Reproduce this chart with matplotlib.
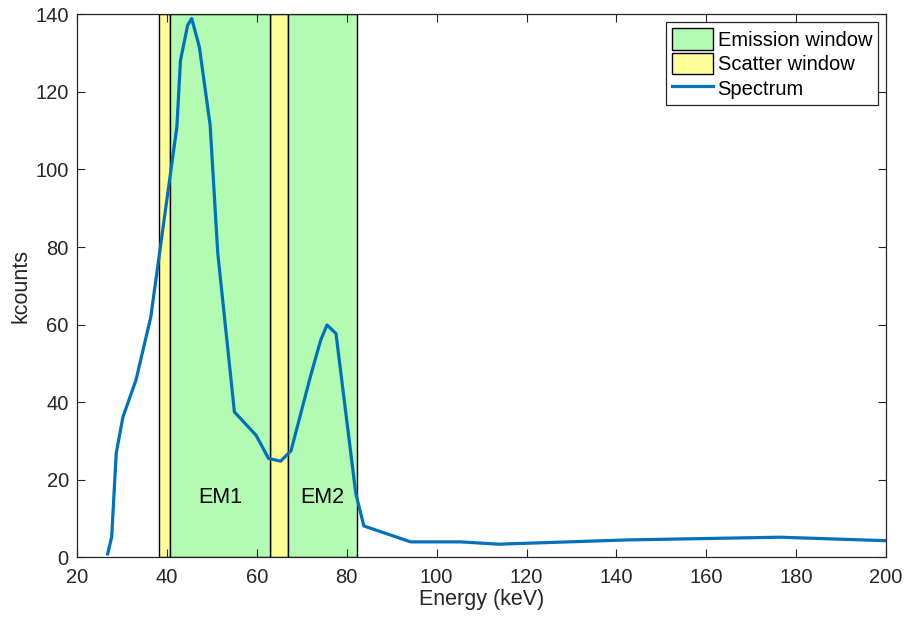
import numpy as np
import matplotlib
matplotlib.use('Agg')
import matplotlib.pyplot as plt
from matplotlib.patches import Patch
from matplotlib.lines import Line2D

plt.rcParams['font.family'] = ['Liberation Sans', 'DejaVu Sans']

# Datos del espectro (keV, kcounts)
energia = [26.8, 27.7, 28.7, 30.2, 33.1, 36.4, 42.2, 43.0, 44.6, 45.5, 47.2, 49.6,
           51.3, 55.0, 59.8, 62.6, 65.3, 67.6, 72.0, 74.2, 75.6, 77.6, 82.0, 83.8,
           94.2, 105.3, 113.8, 142.4, 176.4, 200.0]
cuentas = [0.9, 5.3, 26.8, 36.2, 45.7, 62.0, 111.0, 128.1, 137.2, 138.9, 131.6, 111.4,
           78.4, 37.5, 31.5, 25.5, 24.8, 27.5, 47.0, 56.0, 59.9, 57.7, 16.5, 8.1,
           4.0, 4.0, 3.4, 4.5, 5.2, 4.3]

# Ventanas (keV)
ventanas_emision = [(40.7, 63.0), (67.0, 82.2)]
ventanas_scatter = [(38.3, 40.7), (63.0, 67.0)]
etiquetas_em = ['EM1', 'EM2']

verde = '#b3fab3'
amarillo = '#ffff99'
azul = '#0072BD'

fig = plt.figure(figsize=(9.07, 6.2), dpi=100)
ax = fig.add_axes([0.085, 0.101, 0.892, 0.876])

for a, b in ventanas_scatter:
    ax.axvspan(a, b, facecolor=amarillo, edgecolor='black', linewidth=1.0, zorder=1)
for (a, b), lab in zip(ventanas_emision, etiquetas_em):
    ax.axvspan(a, b, facecolor=verde, edgecolor='black', linewidth=1.0, zorder=1)
    ax.text((a + b) / 2, 15.5, lab, ha='center', va='center', fontsize=15.5, zorder=3)

ax.plot(energia, cuentas, color=azul, linewidth=2.3, zorder=4)

ax.set_xlim(20, 200)
ax.set_ylim(0, 140)
ax.set_xticks(np.arange(20, 201, 20))
ax.set_yticks(np.arange(0, 141, 20))
ax.tick_params(direction='in', top=True, right=True, labelsize=14.5, length=6,
               width=0.8, colors='#262626', labelcolor='#262626')
ax.tick_params(axis='x', pad=8)
ax.tick_params(axis='y', pad=6)
for s in ax.spines.values():
    s.set_color('#262626')
    s.set_linewidth(0.9)
    s.set_zorder(5)
ax.set_xlabel('Energy (keV)', fontsize=15.5, color='#262626', labelpad=1)
ax.set_ylabel('kcounts', fontsize=15.5, color='#262626', labelpad=3)

handles = [Patch(facecolor=verde, edgecolor='black', label='Emission window'),
           Patch(facecolor=amarillo, edgecolor='black', label='Scatter window'),
           Line2D([0], [0], color=azul, linewidth=2.3, label='Spectrum')]
leg = ax.legend(handles=handles, loc='upper right', fontsize=14.5, fancybox=False,
                framealpha=1, edgecolor='#262626', borderaxespad=0.4,
                handlelength=2.0, handleheight=1.25, handletextpad=0.25,
                borderpad=0.3, labelspacing=0.15)
leg.get_frame().set_linewidth(0.9)
leg.set_zorder(6)

fig.savefig('out.png', dpi=100)
